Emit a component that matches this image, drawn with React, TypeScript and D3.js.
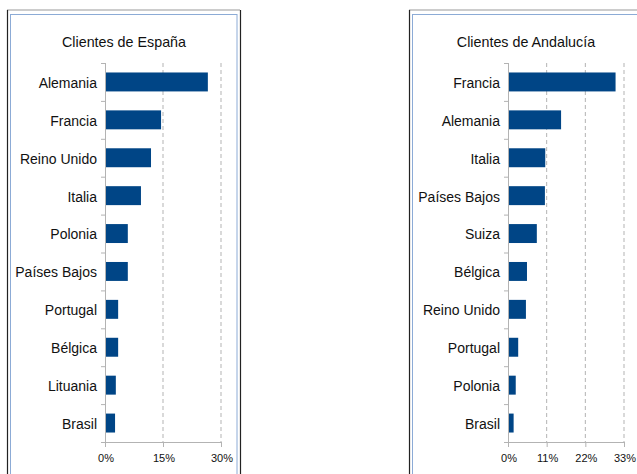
import React from "react";
import * as d3 from "d3";

const espCategories = ["Alemania", "Francia", "Reino Unido", "Italia", "Polonia", "Países Bajos", "Portugal", "Bélgica", "Lituania", "Brasil"];
const espValues = [26.6, 14.5, 11.9, 9.3, 5.9, 5.9, 3.4, 3.4, 2.8, 2.6];
const espTicks = [0, 15, 30];

const andCategories = ["Francia", "Alemania", "Italia", "Países Bajos", "Suiza", "Bélgica", "Reino Unido", "Portugal", "Polonia", "Brasil"];
const andValues = [30.6, 15.1, 10.6, 10.5, 8.2, 5.4, 5.1, 2.9, 2.2, 1.6];
const andTicks = [0, 11, 22, 33];

const BAR = "#004586";
const GRID = "#b3b3b3";
const FONT = "'Liberation Sans', Arial, sans-serif";

function Panel({ x0, right, title, titleX, categories, values, ticks, axisX, maxX, pxMax }: any) {
  const top = 63, bottom = 442;
  const y = d3.scaleBand<string>().domain(categories).range([top, bottom]).paddingInner(0.5).paddingOuter(0.25);
  const yEdges = d3.scaleBand<string>().domain(categories).range([top, bottom]);
  const x = d3.scaleLinear().domain([0, maxX]).range([axisX, pxMax]);
  const max = ticks[ticks.length - 1];
  return (
    <g>
      {/* frame */}
      <line x1={x0} y1={10} x2={right} y2={10} stroke="#999" strokeWidth={1} />
      <line x1={x0 + 0.5} y1={10} x2={x0 + 0.5} y2={480} stroke="#222" strokeWidth={1.2} />
      <line x1={right + 0.5} y1={10} x2={right + 0.5} y2={480} stroke="#222" strokeWidth={1.2} />
      <rect x={x0 + 3.5} y={14.5} width={right - x0 - 6.5} height={480} fill="none" stroke="#8cabd6" strokeWidth={1} />
      <text x={titleX} y={47} textAnchor="middle" fontFamily={FONT} fontSize={14.3} fill="#111">{title}</text>
      {/* grid */}
      {ticks.slice(1).map((t: number) => (
        <line key={t} x1={x(t)} x2={x(t)} y1={top} y2={bottom} stroke={GRID} strokeDasharray="4,3" />
      ))}
      {/* bars */}
      {categories.map((c: string, i: number) => (
        <rect key={c} x={x(0)} y={y(c)} width={x(values[i]) - x(0)} height={y.bandwidth()} fill={BAR} />
      ))}
      {/* y axis */}
      <line x1={axisX + 0.5} x2={axisX + 0.5} y1={top} y2={bottom + 5} stroke={GRID} />
      {categories.map((c: string) => (
        <line key={"t" + c} x1={axisX - 4} x2={axisX} y1={(yEdges(c) as number) + 0.5} y2={(yEdges(c) as number) + 0.5} stroke={GRID} />
      ))}
      <line x1={axisX - 4} x2={axisX} y1={bottom + 0.5} y2={bottom + 0.5} stroke={GRID} />
      {categories.map((c: string) => (
        <text key={"l" + c} x={axisX - 8} y={(y(c) as number) + y.bandwidth() / 2 + 1} dy="0.35em" textAnchor="end" fontFamily={FONT} fontSize={14} fill="#111">{c}</text>
      ))}
      {/* x axis */}
      <line x1={axisX - 4} x2={x(max)} y1={bottom + 0.5} y2={bottom + 0.5} stroke={GRID} />
      {ticks.map((t: number) => (
        <g key={"x" + t}>
          <line x1={x(t) + 0.5} x2={x(t) + 0.5} y1={bottom} y2={bottom + 5} stroke={GRID} />
          <text x={x(t) + 1} y={462} textAnchor="middle" fontFamily={FONT} fontSize={11} fill="#111">{t}%</text>
        </g>
      ))}
    </g>
  );
}

export default function App() {
  return (
    <svg width={637} height={474} style={{ position: "absolute", left: 0, top: 0, background: "#fff" }}>
      <Panel x0={7} right={240} title="Clientes de España" titleX={124} categories={espCategories} values={espValues} ticks={espTicks} axisX={105} maxX={30} pxMax={221} />
      <Panel x0={409} right={660} title="Clientes de Andalucía" titleX={526} categories={andCategories} values={andValues} ticks={andTicks} axisX={508} maxX={33} pxMax={624} />
    </svg>
  );
}
